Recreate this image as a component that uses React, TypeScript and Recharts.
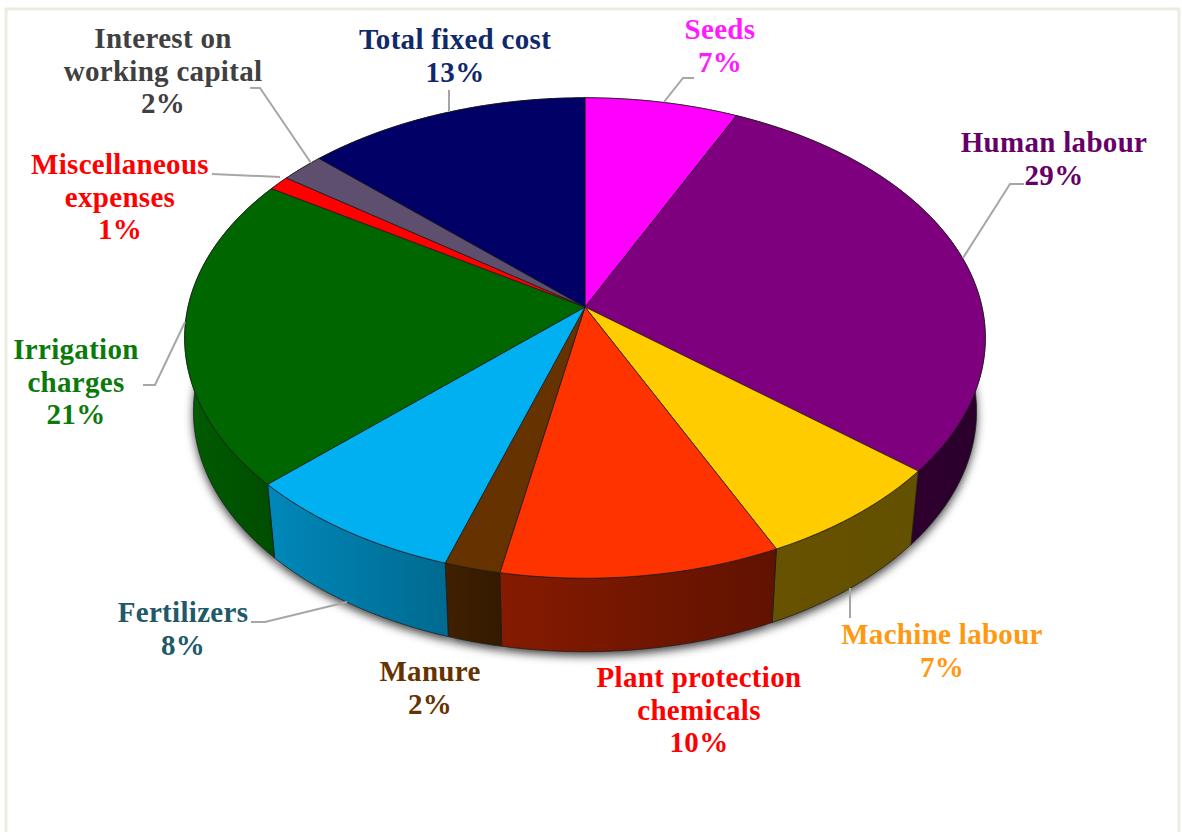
import { PieChart, Pie, Cell } from 'recharts';

const categories = [
  'Seeds', 'Human labour', 'Machine labour', 'Plant protection chemicals', 'Manure',
  'Fertilizers', 'Irrigation charges', 'Miscellaneous expenses', 'Interest on working capital', 'Total fixed cost',
];
const shares = [7, 29, 7, 10, 2, 8, 21, 1, 2, 13];

const labelRows = [
  ['Seeds'], ['Human labour'], ['Machine labour'], ['Plant protection', 'chemicals'], ['Manure'],
  ['Fertilizers'], ['Irrigation', 'charges'], ['Miscellaneous', 'expenses'], ['Interest on', 'working capital'], ['Total fixed cost'],
];

const topColors = ['#ff00ff', '#7f007f', '#ffcc00', '#ff3300', '#663300', '#00b0f0', '#006600', '#ff0000', '#5e4f6e', '#000066'];
const wallLeft = ['#660066', '#330033', '#665200', '#851b00', '#402000', '#0088ba', '#005c00', '#660000', '#2a2a3a', '#000033'];
const wallRight = ['#660066', '#2b002b', '#635000', '#601200', '#331a00', '#006a90', '#004c00', '#660000', '#2a2a3a', '#000033'];
const textColors = ['#ff1aff', '#660066', '#ff9911', '#ff0000', '#663300', '#215968', '#0b7a0b', '#ff0000', '#404040', '#10296b'];

// label anchor: centre x, first baseline
const labelAnchors: [number, number][] = [
  [720, 39], [1054, 152], [942, 644], [699, 687], [430, 681],
  [183, 622], [76, 359], [120, 174], [163, 48], [455, 49],
];

const leaderLines = [
  '694,78 683,78 664,102',
  '1024,184 1010,184 963,258',
  '850,618 850,588',
  '',
  '',
  '251,622 265,622 347,602',
  '143,385 155,385 185,322',
  '212,174 280,177',
  '250,88 260,88 311,163',
  '449,90 449,112',
];

const RY_RATIO = 0.595;
const TILT = 0.129;
const WALL_DROP = 73.5;
const WALL_TAPER = 0.978;

// perspective projection of a point on the rim of the disc
function rimPoint(cx: number, cy: number, r: number, deg: number, lower: boolean): [number, number] {
  const a = (deg * Math.PI) / 180;
  const w = 1 + TILT * Math.sin(a);
  const dx = (r * Math.cos(a)) / w;
  const dy = (-r * RY_RATIO * Math.sin(a)) / w;
  return lower ? [cx + dx * WALL_TAPER, cy + dy + WALL_DROP] : [cx + dx, cy + dy];
}

function arcPoints(p: any, lower: boolean) {
  const pts: string[] = [];
  const n = Math.max(2, Math.ceil(Math.abs(p.endAngle - p.startAngle) * 2));
  for (let i = 0; i <= n; i++) {
    const deg = p.startAngle + ((p.endAngle - p.startAngle) * i) / n;
    const [x, y] = rimPoint(p.cx, p.cy, p.outerRadius, deg, lower);
    pts.push(`${x.toFixed(2)} ${y.toFixed(2)}`);
  }
  return pts;
}

function TopSector(p: any) {
  const d = `M${p.cx} ${p.cy}L${arcPoints(p, false).join('L')}Z`;
  return <path d={d} fill={p.fill} stroke="#1a1a1a" strokeWidth={0.9} strokeOpacity={0.8} strokeLinejoin="round" />;
}

function WallSector(p: any) {
  const top = arcPoints(p, false);
  const bottom = arcPoints(p, true).reverse();
  const d = `M${top.join('L')}L${bottom.join('L')}Z`;
  return <path d={d} fill={p.fill} stroke="#1a1a1a" strokeWidth={0.9} strokeOpacity={0.8} strokeLinejoin="round" />;
}

function ShadowSector(p: any) {
  const d = `M${p.cx} ${p.cy + WALL_DROP}L${arcPoints(p, true).join('L')}Z`;
  return <path d={d} fill="#000" fillOpacity={0.75} filter="url(#wallShadow)" />;
}

function renderLabel(p: any) {
  const i = p.index;
  const [x, y] = labelAnchors[i];
  const rows = [...labelRows[i], `${shares[i]}%`];
  return (
    <g key={categories[i]}>
      {leaderLines[i] && <polyline points={leaderLines[i]} fill="none" stroke="#a6a6a6" strokeWidth={2} />}
      <text
        x={x}
        y={y}
        textAnchor="middle"
        fill={textColors[i]}
        fontFamily="'Liberation Serif', serif"
        fontWeight="bold"
        fontSize={29}
        letterSpacing={0.3}
      >
        {rows.map((row, k) => (
          <tspan key={row} x={x} dy={k === 0 ? 0 : 32.5}>{row}</tspan>
        ))}
      </text>
    </g>
  );
}

const chartData = categories.map((name, i) => ({ name, value: shares[i] }));

export default function App() {
  return (
    <div style={{ position: 'absolute', left: 0, top: 0, width: 1182, height: 832, background: '#fff' }}>
      <PieChart width={1182} height={832} margin={{ top: 0, right: 0, bottom: 0, left: 0 }}>
        <defs>
          <filter id="wallShadow" filterUnits="userSpaceOnUse" x="0" y="0" width="1182" height="832">
            <feOffset dx="0" dy="4" />
            <feGaussianBlur stdDeviation="5" />
          </filter>
          {wallLeft.map((c, i) => (
            <linearGradient key={c + i} id={`wall${i}`} x1="0" y1="0" x2="1" y2="0">
              <stop offset="0" stopColor={c} />
              <stop offset="1" stopColor={wallRight[i]} />
            </linearGradient>
          ))}
        </defs>
        <rect x={6} y={9} width={1173} height={840} fill="#fff" stroke="#eeece1" strokeWidth={3} />
        <Pie data={chartData} dataKey="value" cx={585} cy={307} outerRadius={397} startAngle={90} endAngle={-270}
          isAnimationActive={false} shape={ShadowSector} fill="#000" />
        <Pie data={chartData} dataKey="value" cx={585} cy={307} outerRadius={397} startAngle={90} endAngle={-270}
          isAnimationActive={false} shape={WallSector}>
          {shares.map((_, i) => <Cell key={i} fill={`url(#wall${i})`} />)}
        </Pie>
        <Pie data={chartData} dataKey="value" cx={585} cy={307} outerRadius={397} startAngle={90} endAngle={-270}
          isAnimationActive={false} shape={TopSector} label={renderLabel} labelLine={false}>
          {shares.map((_, i) => <Cell key={i} fill={topColors[i]} />)}
        </Pie>
      </PieChart>
    </div>
  );
}
